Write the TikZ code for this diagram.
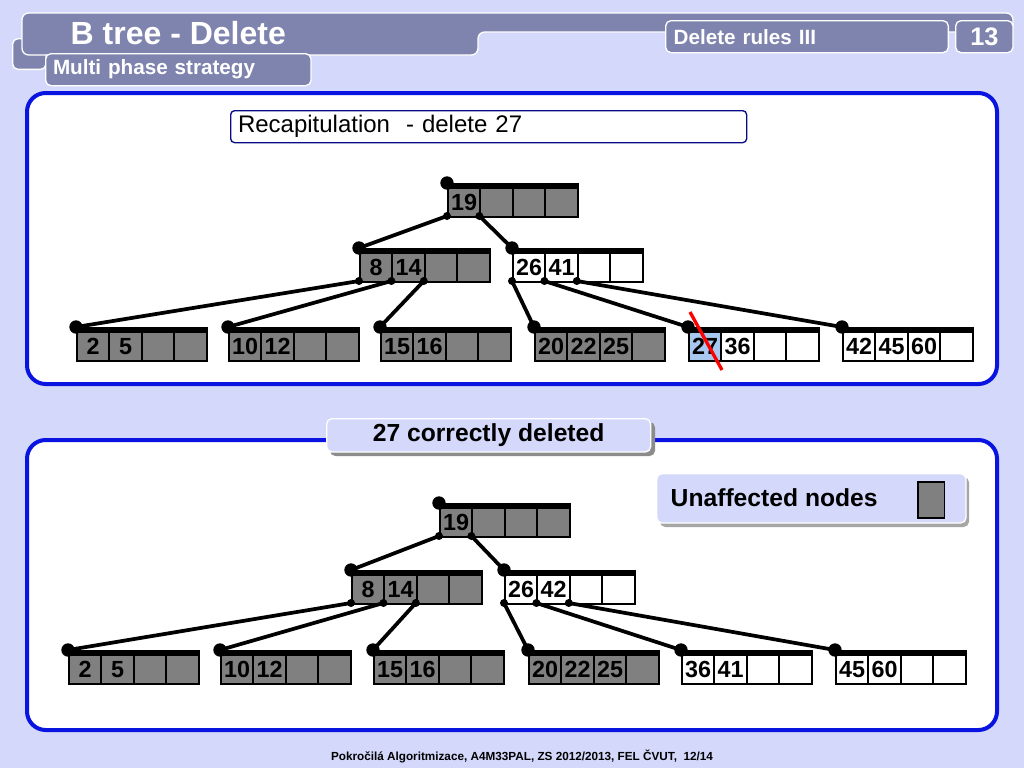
\documentclass[tikz,border=0pt]{standalone}
\usepackage{fontspec}
\setmainfont{Liberation Sans}
\definecolor{bg}{HTML}{D4D8FA}
\definecolor{ban}{HTML}{7F84AE}
\definecolor{pan}{HTML}{0A14E0}
\definecolor{cg}{HTML}{808080}
\definecolor{lb}{HTML}{A8C8F0}
\tikzset{
 cell/.style={draw=black,line width=1.5pt,minimum width=24.3pt,minimum height=22.5pt,inner sep=0pt,text height=12.5pt,text depth=0pt,anchor=north west,font=\fontsize{17.5}{17.5}\selectfont\bfseries},
 bigdot/.style={circle,fill=black,inner sep=0pt,minimum size=10pt},
 smdot/.style={circle,fill=black,inner sep=0pt,minimum size=6pt},
 edge/.style={line width=2.8pt},
 tab/.style={draw=white,line width=1pt,fill=ban,rounded corners=4pt,text=white,font=\bfseries},
 panel/.style={draw=pan,line width=3pt,fill=white,rounded corners=14pt},
}
\newcommand\bnode[9]{%
 \node[cell,fill=#9] (#1-1) at (#2,{#3+3}) {#4};
 \node[cell,fill=#8] (#1-2) at ({#2+32.4},{#3+3}) {#5};
 \node[cell,fill=#8] (#1-3) at ({#2+64.8},{#3+3}) {#6};
 \node[cell,fill=#8] (#1-4) at ({#2+97.2},{#3+3}) {#7};
 \draw[line width=4pt] (#1-1.north west) -- (#1-4.north east);
 \coordinate (#1-tl) at (#2,#3);
 \foreach \i in {0,1,2,3}{\coordinate (#1-p\i) at ({#2+\i*32.4},{#3+33});}
}
\begin{document}
\begin{tikzpicture}[x=0.75pt,y=-0.75pt]
\useasboundingbox (0,0) rectangle (1024,768);
\fill[bg] (0,0) rectangle (1024,768);
% header
\node[tab,minimum width=25pt,minimum height=23pt,anchor=north west] (sq) at (12,38) {};
\fill[ban,draw=white,line width=1pt,rounded corners=5pt] (22,13) -- (1013,13) -- (1013,32) -- (478,32) -- (478,55) -- (22,55) -- cycle;
\node[text=white,font=\fontsize{24}{24}\selectfont\bfseries,anchor=west] (title) at (66,33) {B tree - Delete};
\node[tab,minimum width=212pt,minimum height=24pt,anchor=north west,font=\fontsize{15.5}{15.5}\selectfont\bfseries,text width=200pt,align=left] (rules) at (665,20) {Delete rules III};
\node[tab,minimum width=43pt,minimum height=24pt,anchor=north west,font=\fontsize{19}{19}\selectfont\bfseries] (num) at (955,20) {13};
\node[tab,minimum width=199pt,minimum height=24pt,anchor=north west,font=\fontsize{15.5}{15.5}\selectfont\bfseries,text width=188pt,align=left] (sub) at (45,53) {Multi phase strategy};
% panels
\draw[panel] (27,93) rectangle (997,384);
\draw[panel] (27,440) rectangle (997,730);
\node[draw=pan!60!black,line width=1pt,fill=white,rounded corners=3pt,minimum width=387pt,minimum height=24pt,anchor=north west,text width=376pt,align=left,font=\fontsize{18}{18}\selectfont] (recap) at (230,110) {Recapitulation\ \ - delete 27};
\fill[black!45,rounded corners=4pt] (330,422) rectangle (655,456);
\node[fill=bg,draw=white,line width=1pt,rounded corners=4pt,minimum width=243pt,minimum height=25pt,anchor=north west,font=\fontsize{18.5}{18.5}\selectfont\bfseries] (ok) at (326,418) {27 correctly deleted};
\fill[black!35,rounded corners=4pt] (660,477) rectangle (969,527);
\node[fill=bg,draw=white,line width=1pt,rounded corners=4pt,minimum width=232pt,minimum height=37pt,anchor=north west] (un) at (656,473) {};
\node[anchor=west,font=\fontsize{18.5}{18.5}\selectfont\bfseries] (unt) at (666,498) {Unaffected nodes};
\node[draw=black,line width=1.2pt,fill=cg,minimum width=20pt,minimum height=27pt,inner sep=0pt,anchor=north west] (unsq) at (917,481) {};
% top tree
\bnode{r}{447}{183}{19}{}{}{}{cg}{cg}
\bnode{a}{359}{248}{8}{14}{}{}{cg}{cg}
\bnode{b}{512}{248}{26}{41}{}{}{white}{white}
\bnode{l1}{76}{327}{2}{5}{}{}{cg}{cg}
\bnode{l2}{228}{327}{10}{12}{}{}{cg}{cg}
\bnode{l3}{380}{327}{15}{16}{}{}{cg}{cg}
\bnode{l4}{534}{327}{20}{22}{25}{}{cg}{cg}
\bnode{l5}{688}{327}{27}{36}{}{}{white}{lb}
\bnode{l6}{842}{327}{42}{45}{60}{}{white}{white}
\draw[edge] (r-p0)--(a-tl); \draw[edge] (r-p1)--(b-tl);
\draw[edge] (a-p0)--(l1-tl); \draw[edge] (a-p1)--(l2-tl); \draw[edge] (a-p2)--(l3-tl);
\draw[edge] (b-p0)--(l4-tl); \draw[edge] (b-p1)--(l5-tl); \draw[edge] (b-p2)--(l6-tl);
\foreach \n in {r,a,b,l1,l2,l3,l4,l5,l6}{\node[bigdot] at (\n-tl) {};}
\foreach \n/\k in {r/1,a/2,b/2}{\foreach \j in {0,...,\k}{\node[smdot] at (\n-p\j) {};}}
\coordinate (x1) at (690,312); \coordinate (x2) at (722,370);
\draw[red,line width=2.5pt] (x1)--(x2);
% bottom tree
\bnode{R}{439}{503}{19}{}{}{}{cg}{cg}
\bnode{A}{351}{570}{8}{14}{}{}{cg}{cg}
\bnode{B}{504}{570}{26}{42}{}{}{white}{white}
\bnode{L1}{68}{650}{2}{5}{}{}{cg}{cg}
\bnode{L2}{220}{650}{10}{12}{}{}{cg}{cg}
\bnode{L3}{373}{650}{15}{16}{}{}{cg}{cg}
\bnode{L4}{528}{650}{20}{22}{25}{}{cg}{cg}
\bnode{L5}{681}{650}{36}{41}{}{}{white}{white}
\bnode{L6}{835}{650}{45}{60}{}{}{white}{white}
\draw[edge] (R-p0)--(A-tl); \draw[edge] (R-p1)--(B-tl);
\draw[edge] (A-p0)--(L1-tl); \draw[edge] (A-p1)--(L2-tl); \draw[edge] (A-p2)--(L3-tl);
\draw[edge] (B-p0)--(L4-tl); \draw[edge] (B-p1)--(L5-tl); \draw[edge] (B-p2)--(L6-tl);
\foreach \n in {R,A,B,L1,L2,L3,L4,L5,L6}{\node[bigdot] at (\n-tl) {};}
\foreach \n/\k in {R/1,A/2,B/2}{\foreach \j in {0,...,\k}{\node[smdot] at (\n-p\j) {};}}
\node[font=\fontsize{8.8}{8.8}\selectfont\bfseries] (foot) at (522,756) {Pokročilá Algoritmizace, A4M33PAL, ZS 2012/2013, FEL ČVUT,\ \ 12/14};
\end{tikzpicture}
\end{document}
